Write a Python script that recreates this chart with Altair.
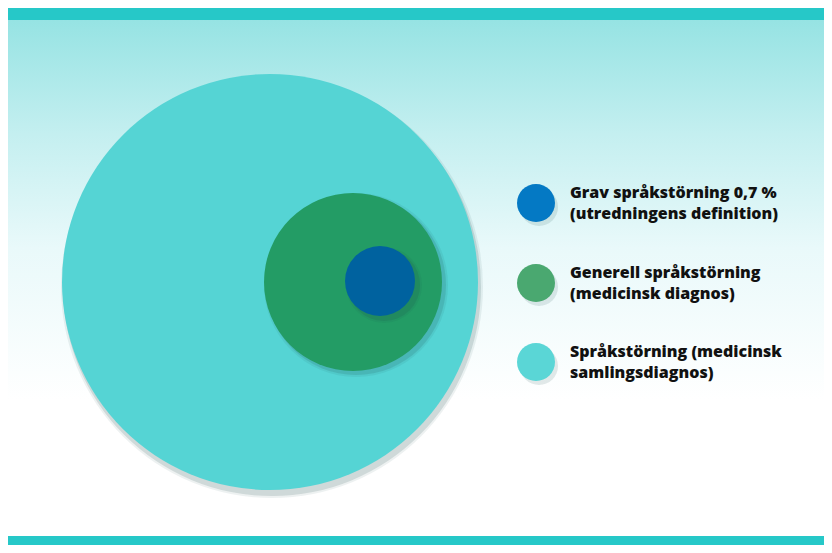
import altair as alt
import pandas as pd

# ---- data ----
labels = [
    ["Grav språkstörning 0,7 %", "(utredningens definition)"],
    ["Generell språkstörning", "(medicinsk diagnos)"],
    ["Språkstörning (medicinsk", "samlingsdiagnos)"],
]
# nested circles (outer -> inner): centre x, centre y, radius in picture units
circle_names = ["Språkstörning", "Generell språkstörning", "Grav språkstörning"]
circle_cx = [270, 353, 380]
circle_cy = [282, 282, 281]
circle_r = [208, 89, 35]
circle_colors = ["#55d4d4", "#239c65", "#00629f"]
legend_colors = ["#0479c4", "#4aa870", "#5ad6d6"]
legend_y = [203, 283, 362]

W, H = 816, 537
X0, Y0 = 8, 8
xs = alt.Scale(domain=[X0, X0 + W], range=[0, W], nice=False, zero=False)
ys = alt.Scale(domain=[Y0 + H, Y0], nice=False, zero=False)


def area(r):
    # Vega symbol size: diameter = sqrt(size)
    return 4 * r * r

circ = pd.DataFrame({
    "name": circle_names, "cx": circle_cx, "cy": circle_cy,
    "size": [area(r) for r in circle_r], "color": circle_colors,
})
shadow = circ.copy()
shadow["cx"] = shadow["cx"] + pd.Series([2, 3, 4])
shadow["cy"] = shadow["cy"] + pd.Series([5, 3, 4])
shadow["size"] = [area(r + 1) for r in circle_r]
shadow2 = shadow.copy()
shadow2["size"] = [area(r + 3) for r in circle_r]

leg = pd.DataFrame({
    "x": [536] * 3, "y": legend_y, "color": legend_colors,
    "size": [area(19)] * 3,
    "l1": [l[0] for l in labels], "l2": [l[1] for l in labels],
})
leg_sh = leg.copy()
leg_sh["x"] = leg_sh["x"] + 3
leg_sh["y"] = leg_sh["y"] + 4


def enc_x(f):
    return alt.X(f, type="quantitative", scale=xs, axis=None)


def enc_y(f):
    return alt.Y(f, type="quantitative", scale=ys, axis=None)

bands = pd.DataFrame({"x": [3, 3], "x2": [832, 832], "y": [6, 536], "y2": [20, 545]})
bg = pd.DataFrame({"x": [3], "x2": [832], "y": [20], "y2": [400]})

background = alt.Chart(bg).mark_rect(
    fill=alt.Gradient(
        gradient="linear", x1=0, x2=0, y1=0, y2=1,
        stops=[alt.GradientStop(color="#96e3e3", offset=0),
               alt.GradientStop(color="#c4eff0", offset=0.3),
               alt.GradientStop(color="#e9f9fa", offset=0.6),
               alt.GradientStop(color="#ffffff", offset=1)],
    )
).encode(x=enc_x("x"), x2="x2", y=enc_y("y"), y2="y2")

band_layer = alt.Chart(bands).mark_rect(color="#26c8c8").encode(
    x=enc_x("x"), x2="x2", y=enc_y("y"), y2="y2")


def dots(df, **kw):
    return alt.Chart(df).mark_circle(**kw).encode(
        x=enc_x("cx"), y=enc_y("cy"),
        size=alt.Size("size:Q", scale=None, legend=None),
    )

layers = [background, band_layer]
for i in range(3):
    layers.append(dots(shadow2.iloc[[i]], color="#1a4a4a", opacity=0.08))
    layers.append(dots(shadow.iloc[[i]], color="#1a4a4a", opacity=0.14))
    layers.append(dots(circ.iloc[[i]], color=circle_colors[i], opacity=1))

legend_shadow = alt.Chart(leg_sh).mark_circle(color="#1a4a4a", opacity=0.12).encode(
    x=enc_x("x"), y=enc_y("y"), size=alt.Size("size:Q", scale=None, legend=None))
legend_dots = alt.Chart(leg).mark_circle(opacity=1).encode(
    x=enc_x("x"), y=enc_y("y"), size=alt.Size("size:Q", scale=None, legend=None),
    color=alt.Color("color:N", scale=None))
txt_kw = dict(align="left", baseline="middle", font="Open Sans", fontSize=16,
              fontWeight=800, color="#111111")
t1 = alt.Chart(leg).mark_text(dy=-10, **txt_kw).encode(
    x=alt.X("tx:Q", scale=xs, axis=None), y=enc_y("y"), text="l1:N"
).transform_calculate(tx="datum.x + 34")
t2 = alt.Chart(leg).mark_text(dy=11, **txt_kw).encode(
    x=alt.X("tx:Q", scale=xs, axis=None), y=enc_y("y"), text="l2:N"
).transform_calculate(tx="datum.x + 34")

layers += [legend_shadow, legend_dots, t1, t2]

chart = alt.layer(*layers).properties(
    width=W, height=H, padding=0, autosize=alt.AutoSizeParams(type="none"),
    background="white",
).configure_view(stroke=None)

chart.save("out.html", embed_options={"renderer": "svg", "actions": False})
